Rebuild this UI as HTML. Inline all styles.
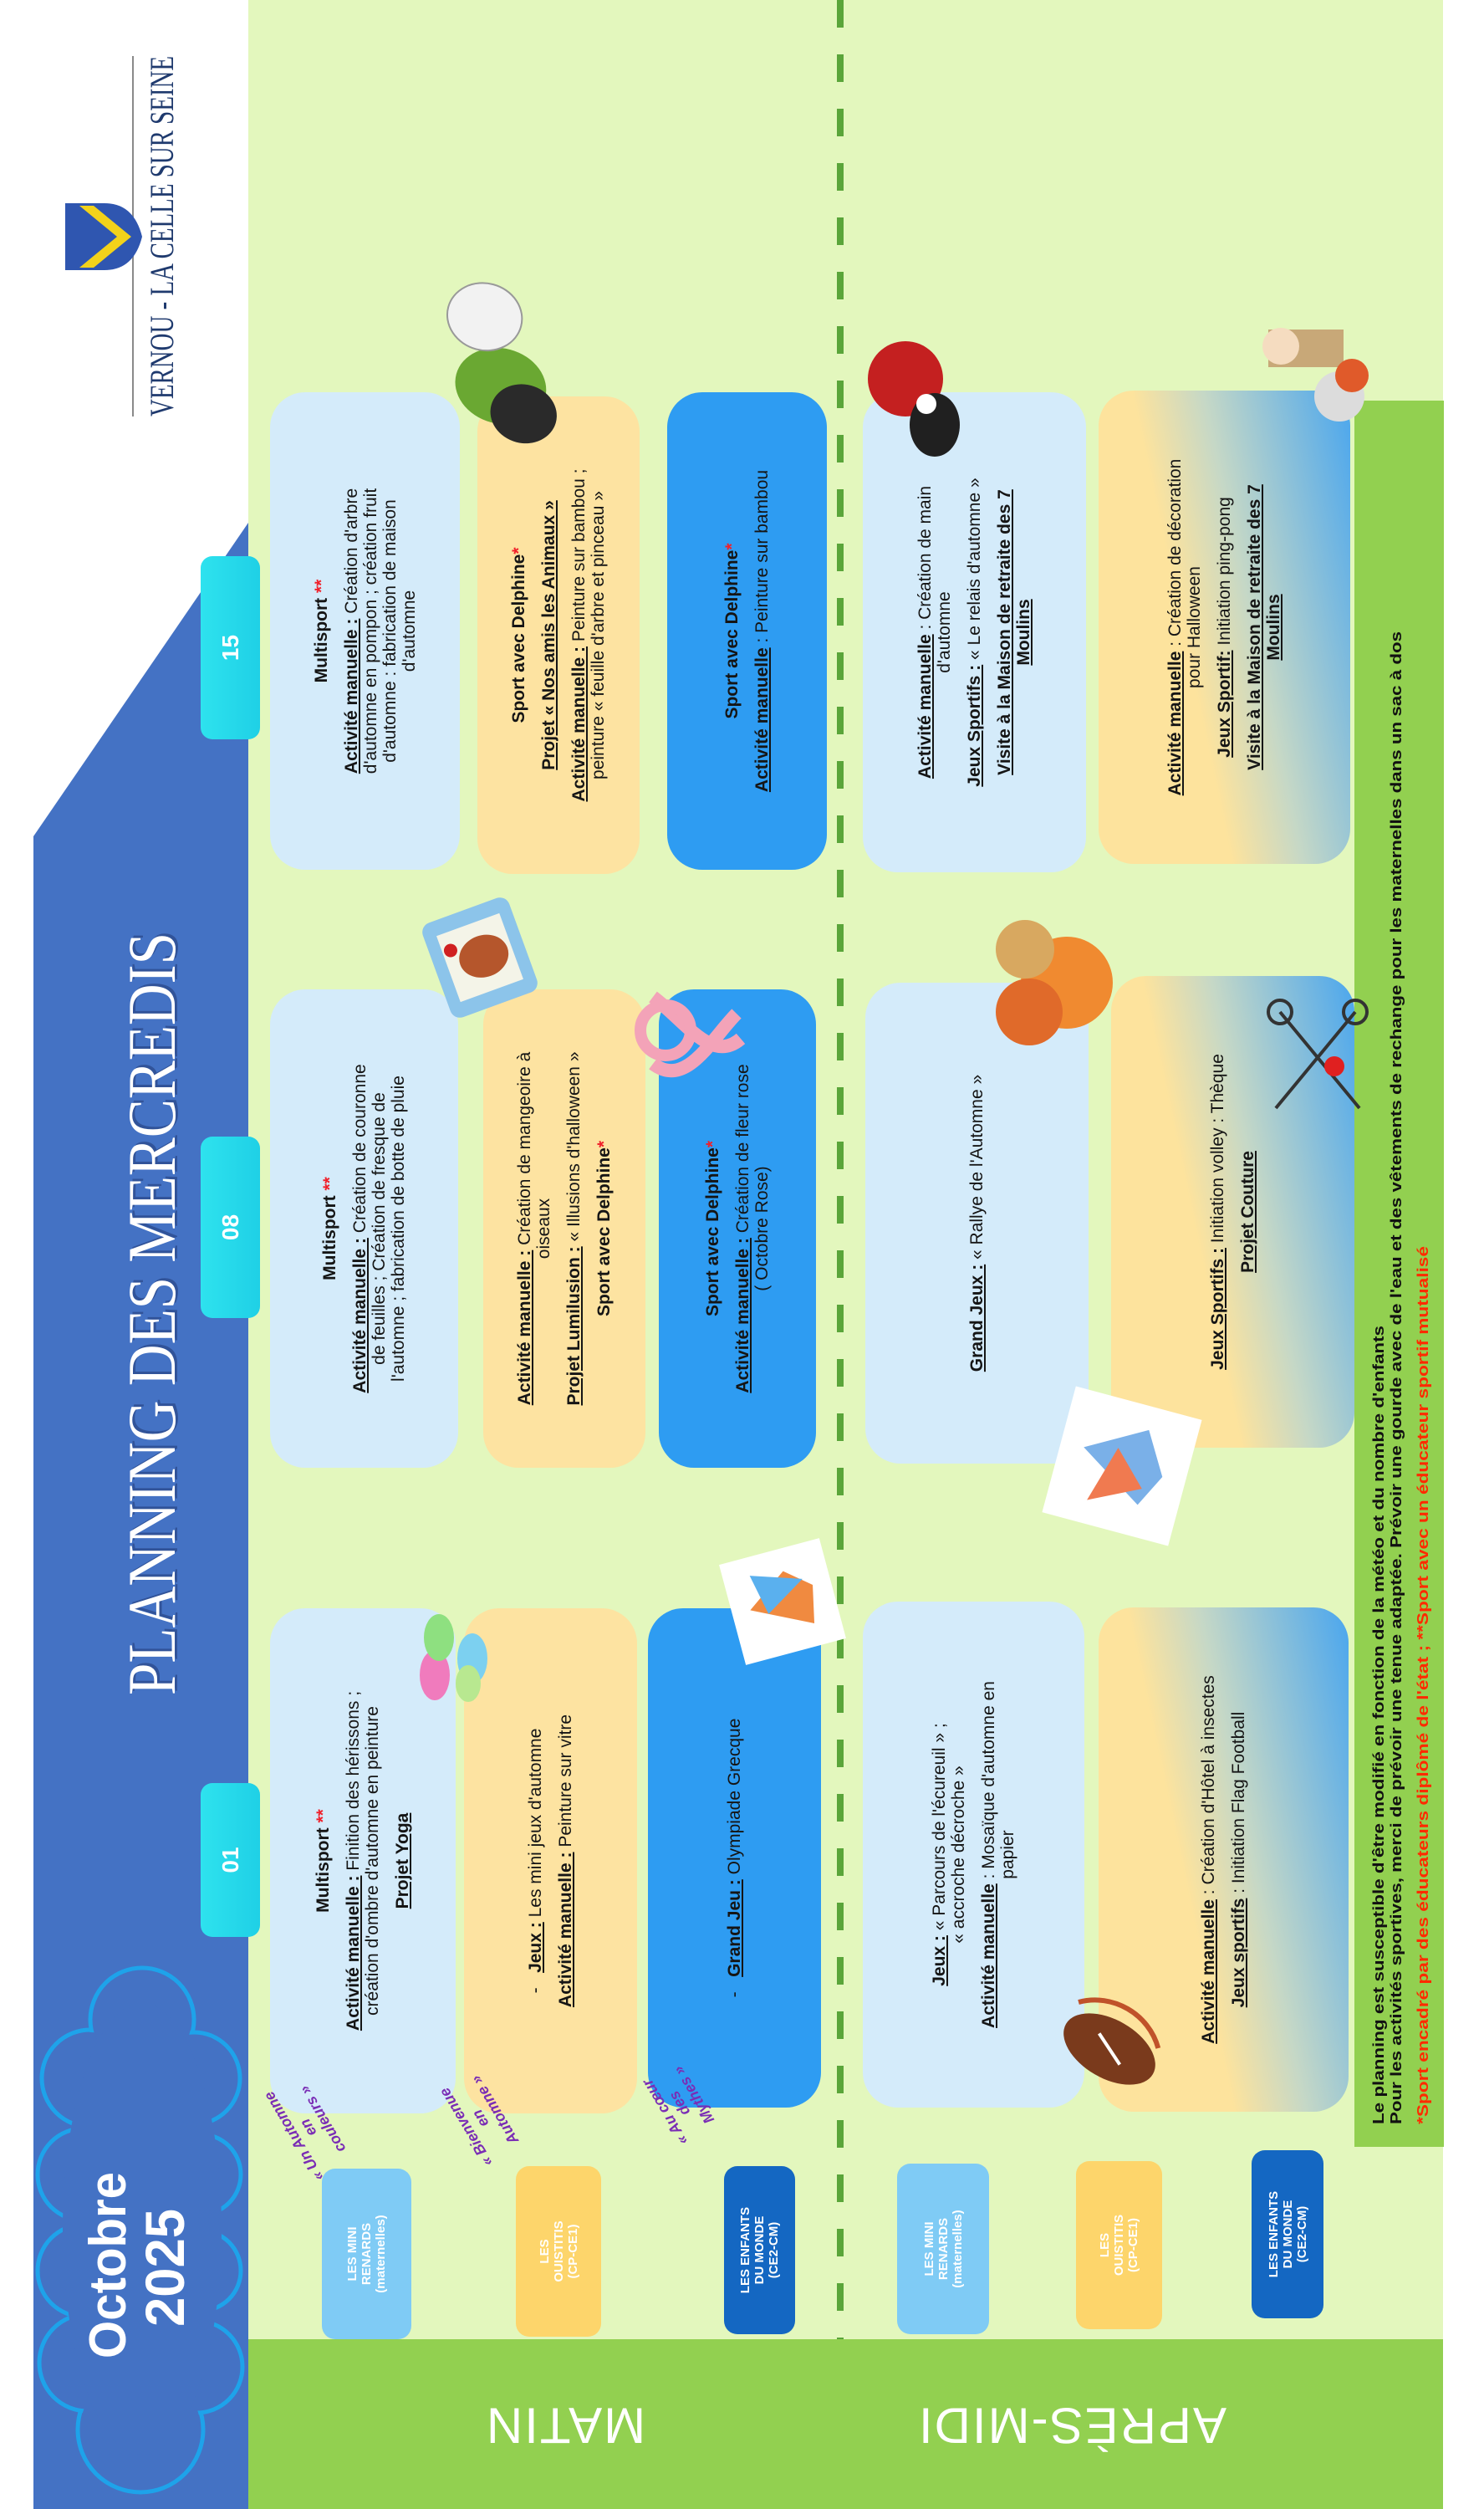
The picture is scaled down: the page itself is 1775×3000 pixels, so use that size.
<!DOCTYPE html>
<html><head><meta charset="utf-8">
<style>
html,body{margin:0;padding:0;background:#fff;}
body{width:1775px;height:3000px;position:relative;overflow:hidden;font-family:"Liberation Sans",sans-serif;}
#L{position:absolute;left:0;top:0;width:3000px;height:1775px;transform-origin:0 0;transform:translate(0,3000px) rotate(-90deg);}
.c{position:absolute;border-radius:42px;display:flex;flex-direction:column;justify-content:center;align-items:center;text-align:center;font:21px/23px "Liberation Sans",sans-serif;color:#151515;white-space:nowrap;}
.c p{margin:0 0 13px 0;}
.c p:last-child{margin-bottom:0;}
.u{font-weight:bold;text-decoration:underline;}
.b{font-weight:bold;}
.r{color:#f0202a;font-weight:bold;}
.lb{background:#d4ebfa;}
.ye{background:#fde3a1;}
.bl{background:#2e9cf2;}
.gr{background:linear-gradient(168deg,#fde39d 0%,#fde39d 38%,#c6d8c6 58%,#4aa6ee 100%);}
.tab{position:absolute;background:linear-gradient(#2ee2ee,#1fd0e6);border-radius:14px;color:#fff;font:bold 28px "Liberation Sans",sans-serif;display:flex;align-items:center;justify-content:center;}
.lab{position:absolute;border-radius:16px;color:#fff;font:bold 15px/17px "Liberation Sans",sans-serif;display:flex;align-items:center;justify-content:center;text-align:center;}
.big{position:absolute;color:#fff;font:60px "Liberation Sans",sans-serif;transform:translate(-50%,-50%) rotate(180deg);white-space:nowrap;letter-spacing:2px;}
</style></head><body>
<div id="L">
<svg width="3000" height="1775" style="position:absolute;left:0;top:0">
  <rect x="203" y="297" width="2797" height="1429" fill="#e3f7bd"/>
  <rect x="0" y="297" width="203" height="1429" fill="#92d050"/>
  <polygon points="0,40 2000,40 2375,297 0,297" fill="#4472c4"/>
  <rect x="433" y="1620" width="2088" height="107" fill="#92d050"/>
  <line x1="3000" y1="1005" x2="203" y2="1005" stroke="#5aa53a" stroke-width="8" stroke-dasharray="33 32"/>
  <line x1="2502" y1="159" x2="2933" y2="159" stroke="#8a8a8a" stroke-width="2"/>
  <text x="2502" y="207" font-family="Liberation Serif, serif" font-size="40" fill="#1f3a6e" textLength="431" lengthAdjust="spacingAndGlyphs">VERNOU - LA CELLE SUR SEINE</text>
  <path d="M2677,78 L2757,78 L2757,125 Q2757,160 2717,170 Q2677,160 2677,125 Z" fill="#2f56b0"/>
  <path d="M2680,95 L2717,140 L2754,95 L2754,112 L2717,157 L2680,112 Z" fill="#f2d21a"/>
  <text x="976" y="212" font-family="Liberation Serif, serif" font-size="82" fill="#25407e" textLength="912" lengthAdjust="spacingAndGlyphs" opacity="0.6">PLANNING DES MERCREDIS</text>
  <text x="973" y="209" font-family="Liberation Serif, serif" font-size="82" fill="#ffffff" textLength="912" lengthAdjust="spacingAndGlyphs">PLANNING DES MERCREDIS</text>
  <g fill="#4472c4" stroke="#1ea3ea" stroke-width="5">
    <circle cx="95" cy="168" r="75"/><circle cx="175" cy="105" r="58"/><circle cx="285" cy="100" r="55"/>
    <circle cx="400" cy="100" r="55"/><circle cx="515" cy="108" r="58"/><circle cx="585" cy="170" r="62"/>
    <circle cx="515" cy="232" r="55"/><circle cx="400" cy="240" r="48"/><circle cx="285" cy="240" r="48"/><circle cx="170" cy="235" r="55"/>
  </g>
  <g fill="#4472c4">
    <circle cx="95" cy="168" r="72"/><circle cx="175" cy="105" r="55"/><circle cx="285" cy="100" r="52"/>
    <circle cx="400" cy="100" r="52"/><circle cx="515" cy="108" r="55"/><circle cx="585" cy="170" r="59"/>
    <circle cx="515" cy="232" r="52"/><circle cx="400" cy="240" r="45"/><circle cx="285" cy="240" r="45"/><circle cx="170" cy="235" r="52"/>
    <ellipse cx="335" cy="170" rx="270" ry="95"/>
  </g>
  <text x="180" y="150" font-family="Liberation Sans, sans-serif" font-weight="bold" font-size="62" fill="#fff" textLength="223" lengthAdjust="spacingAndGlyphs">Octobre</text>
  <text x="218" y="220" font-family="Liberation Sans, sans-serif" font-weight="bold" font-size="66" fill="#fff" textLength="141" lengthAdjust="spacingAndGlyphs">2025</text>
  <text x="460" y="1655" font-family="Liberation Sans, sans-serif" font-weight="bold" font-size="18" fill="#111" textLength="955" lengthAdjust="spacingAndGlyphs">Le planning est susceptible d'être modifié en fonction de la météo et du nombre d'enfants</text>
  <text x="460" y="1676" font-family="Liberation Sans, sans-serif" font-weight="bold" font-size="18" fill="#111" textLength="1785" lengthAdjust="spacingAndGlyphs">Pour les activités sportives, merci de prévoir une tenue adaptée. Prévoir une gourde avec de l'eau et des vêtements de rechange pour les maternelles dans un sac à dos</text>
  <text x="460" y="1708" font-family="Liberation Sans, sans-serif" font-weight="bold" font-size="18" fill="#ff2a00" textLength="1050" lengthAdjust="spacingAndGlyphs">*Sport encadré par des éducateurs diplômé de l'état ; **Sport avec un éducateur sportif mutualisé</text>
</svg>

<div class="tab" style="left:2116px;top:240px;width:219px;height:71px">15</div>
<div class="tab" style="left:1424px;top:240px;width:217px;height:71px">08</div>
<div class="tab" style="left:684px;top:240px;width:184px;height:71px">01</div>

<div class="c lb" style="left:1960px;top:323px;width:571px;height:227px">
  <p class="b">Multisport <span class="r">**</span></p>
  <p><span class="u">Activité manuelle :</span> Création d'arbre<br>d'automne en pompon ; création fruit<br>d'automne : fabrication de maison<br>d'automne</p>
</div>
<div class="c ye" style="left:1955px;top:571px;width:571px;height:194px">
  <p class="b">Sport avec Delphine<span class="r">*</span></p>
  <p class="u">Projet « Nos amis les Animaux »</p>
  <p><span class="u">Activité manuelle :</span> Peinture sur bambou ;<br>peinture « feuille d'arbre et pinceau »</p>
</div>
<div class="c bl" style="left:1960px;top:798px;width:571px;height:191px">
  <p class="b">Sport avec Delphine<span class="r">*</span></p>
  <p><span class="u">Activité manuelle</span> : Peinture sur bambou</p>
</div>
<div class="c lb" style="left:1957px;top:1032px;width:574px;height:267px">
  <p><span class="u">Activité manuelle</span> : Création de main<br>d'automne</p>
  <p><span class="u">Jeux Sportifs :</span> « Le relais d'automne »</p>
  <p class="u">Visite à la Maison de retraite des 7<br>Moulins</p>
</div>
<div class="c gr" style="left:1967px;top:1314px;width:566px;height:301px">
  <p><span class="u">Activité manuelle</span> : Création de décoration<br>pour Halloween</p>
  <p><span class="u">Jeux Sportif:</span> Initiation ping-pong</p>
  <p class="u">Visite à la Maison de retraite des 7<br>Moulins</p>
</div>

<div class="c lb" style="left:1245px;top:323px;width:572px;height:225px">
  <p class="b">Multisport <span class="r">**</span></p>
  <p><span class="u">Activité manuelle :</span> Création de couronne<br>de feuilles ; Création de fresque de<br>l'automne ; fabrication de botte de pluie</p>
</div>
<div class="c ye" style="left:1245px;top:578px;width:572px;height:194px">
  <p><span class="u">Activité manuelle :</span> Création de mangeoire à<br>oiseaux</p>
  <p><span class="u">Projet Lumilusion :</span> « Illusions d'halloween »</p>
  <p class="b">Sport avec Delphine<span class="r">*</span></p>
</div>
<div class="c bl" style="left:1245px;top:788px;width:572px;height:188px">
  <p class="b">Sport avec Delphine<span class="r">*</span></p>
  <p><span class="u">Activité manuelle :</span> Création de fleur rose<br>( Octobre Rose)</p>
</div>
<div class="c lb" style="left:1250px;top:1035px;width:575px;height:267px">
  <p><span class="u">Grand Jeux :</span> « Rallye de l'Automne »</p>
</div>
<div class="c gr" style="left:1269px;top:1329px;width:564px;height:291px">
  <p><span class="u">Jeux Sportifs :</span> Initiation volley : Thèque</p>
  <p class="u">Projet Couture</p>
</div>

<div class="c lb" style="left:473px;top:323px;width:604px;height:222px">
  <p class="b">Multisport <span class="r">**</span></p>
  <p><span class="u">Activité manuelle :</span> Finition des hérissons ;<br>création d'ombre d'automne en peinture</p>
  <p class="u">Projet Yoga</p>
</div>
<div class="c ye" style="left:473px;top:555px;width:604px;height:207px">
  <p>-&nbsp;&nbsp;&nbsp;<span class="u">Jeux :</span> Les mini jeux d'automne</p>
  <p><span class="u">Activité manuelle :</span> Peinture sur vitre</p>
</div>
<div class="c bl" style="left:480px;top:775px;width:597px;height:207px">
  <p>-&nbsp;&nbsp;&nbsp;<span class="u">Grand Jeu :</span> Olympiade Grecque</p>
</div>
<div class="c lb" style="left:480px;top:1032px;width:605px;height:265px">
  <p><span class="u">Jeux :</span> « Parcours de l'écureuil » ;<br>« accroche décroche »</p>
  <p><span class="u">Activité manuelle</span> : Mosaïque d'automne en<br>papier</p>
</div>
<div class="c gr" style="left:475px;top:1314px;width:603px;height:299px">
  <p><span class="u">Activité manuelle</span> : Création d'Hôtel à insectes</p>
  <p><span class="u">Jeux sportifs</span> : Initiation Flag Football</p>
</div>

<div class="lab" style="left:203px;top:385px;width:204px;height:107px;background:#7fcbf5">LES MINI<br>RENARDS<br>(maternelles)</div>
<div class="lab" style="left:206px;top:617px;width:204px;height:102px;background:#fdd56b">LES<br>OUISTITIS<br>(CP-CE1)</div>
<div class="lab" style="left:209px;top:866px;width:201px;height:85px;background:#1467c2">LES ENFANTS<br>DU MONDE<br>(CE2-CM)</div>
<div class="lab" style="left:209px;top:1073px;width:204px;height:110px;background:#7fcbf5">LES MINI<br>RENARDS<br>(maternelles)</div>
<div class="lab" style="left:215px;top:1287px;width:201px;height:103px;background:#fdd56b">LES<br>OUISTITIS<br>(CP-CE1)</div>
<div class="lab" style="left:228px;top:1497px;width:201px;height:86px;background:#1467c2">LES ENFANTS<br>DU MONDE<br>(CE2-CM)</div>

<svg width="3000" height="1775" style="position:absolute;left:0;top:0;pointer-events:none">
  <g font-family="Liberation Sans, sans-serif" font-style="italic" font-weight="bold" font-size="18" fill="#7a2db5" text-anchor="middle">
    <g transform="translate(458,372) rotate(-31)"><text y="-18">« Un Automne</text><text y="2">en</text><text y="22">couleurs »</text></g>
    <g transform="translate(469,578) rotate(-31)"><text y="-18">« Bienvenue</text><text y="2">en</text><text y="22">Automne »</text></g>
    <g transform="translate(487,816) rotate(-31)"><text y="-18">« Au cœur</text><text y="2">des</text><text y="22">Mythes »</text></g>
  </g>
  <g transform="translate(2570,597) rotate(15)">
    <ellipse cx="-30" cy="10" rx="45" ry="55" fill="#6aa832"/>
    <ellipse cx="45" cy="-30" rx="40" ry="45" fill="#f2f2f2" stroke="#999" stroke-width="2"/>
    <ellipse cx="-55" cy="45" rx="35" ry="40" fill="#2a2a2a"/>
  </g>
  <g transform="translate(1855,574) rotate(-20)">
    <rect x="-60" y="-55" width="120" height="110" rx="12" fill="#8cc4ea"/>
    <rect x="-42" y="-40" width="84" height="80" fill="#f4f4e8"/>
    <ellipse cx="0" cy="5" rx="25" ry="30" fill="#b5562c"/>
    <circle cx="20" cy="-30" r="8" fill="#d02020"/>
  </g>
  <g transform="translate(1768,831)">
    <path d="M-40,-50 C-70,-10 -10,20 20,50 M40,-50 C10,-10 -40,20 -10,55" stroke="#f3a3b8" stroke-width="16" fill="none"/>
    <circle cx="0" cy="-35" r="30" fill="none" stroke="#f3a3b8" stroke-width="14"/>
  </g>
  <g transform="translate(1017,540)">
    <ellipse cx="-20" cy="-20" rx="30" ry="18" fill="#f07bbd"/>
    <ellipse cx="25" cy="-15" rx="28" ry="18" fill="#8ee080"/>
    <ellipse cx="0" cy="25" rx="30" ry="18" fill="#7cd0f0"/>
    <ellipse cx="-30" cy="20" rx="22" ry="15" fill="#b8e890"/>
  </g>
  <g transform="translate(1085,936) rotate(-15)">
    <rect x="-62" y="-62" width="124" height="124" fill="#fff"/>
    <path d="M-35,30 L0,-40 L35,10 L10,40 Z" fill="#f08a40"/>
    <path d="M-10,-20 L40,-30 L20,30 Z" fill="#5ab0ee"/>
  </g>
  <g transform="translate(2522,1098)">
    <circle cx="25" cy="-15" r="45" fill="#c42020"/>
    <ellipse cx="-30" cy="20" rx="38" ry="30" fill="#202020"/>
    <circle cx="-5" cy="10" r="12" fill="#fff"/>
  </g>
  <g transform="translate(2561,1572)">
    <circle cx="-35" cy="30" r="30" fill="#dcdcdc"/>
    <rect x="0" y="-55" width="45" height="90" fill="#c8a878"/>
    <circle cx="25" cy="-40" r="22" fill="#f5dcc0"/>
    <circle cx="-10" cy="45" r="20" fill="#e05a2a"/>
  </g>
  <g transform="translate(1825,1256)">
    <circle cx="0" cy="20" r="55" fill="#f08a30"/>
    <circle cx="-35" cy="-25" r="40" fill="#e06a2a"/>
    <circle cx="40" cy="-30" r="35" fill="#d8a860"/>
  </g>
  <g transform="translate(1247,1342) rotate(15)">
    <rect x="-78" y="-78" width="156" height="156" fill="#fff"/>
    <path d="M-40,30 L10,-50 L50,20 L0,50 Z" fill="#7ab0e8"/>
    <path d="M-50,-30 L20,-10 L-20,30 Z" fill="#f07a50"/>
  </g>
  <g transform="translate(1735,1576)" stroke="#333" stroke-width="4" fill="none">
    <line x1="-60" y1="-50" x2="55" y2="45"/><line x1="-60" y1="50" x2="55" y2="-45"/>
    <circle cx="55" cy="45" r="14"/><circle cx="55" cy="-45" r="14"/>
    <circle cx="-10" cy="20" r="12" fill="#e02020" stroke="none"/>
  </g>
  <g transform="translate(550,1327) rotate(-60)">
    <ellipse cx="0" cy="0" rx="60" ry="35" fill="#7a3a1c"/>
    <path d="M-20,-10 L20,10" stroke="#fff" stroke-width="4"/>
    <path d="M-50,30 C-20,60 30,60 60,30" stroke="#c0522a" stroke-width="6" fill="none"/>
  </g>
</svg>
</div>

<div class="big" style="left:676px;top:2900px">MATIN</div>
<div class="big" style="left:1282px;top:2900px">APRÈS-MIDI</div>
</body></html>
